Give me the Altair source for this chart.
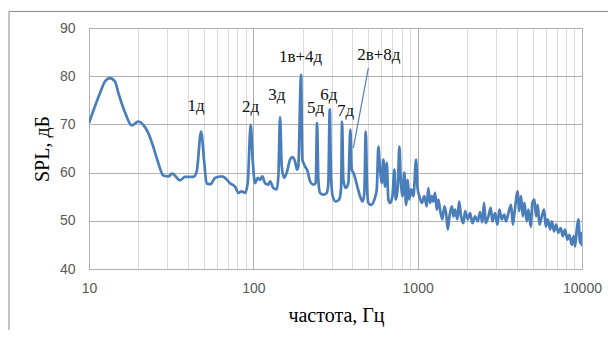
import altair as alt
import pandas as pd

# spectrum: frequency (Hz) and SPL (dB)
freq = [
    10, 11.67, 12.5, 13.4, 14.4, 15.1, 16.6, 18.2, 19.95, 21.4,
    22.96, 24.6, 26.4, 28.3, 30.4, 32.1, 35.8, 38.4, 43.1, 45.2,
    48.1, 50.3, 52.0, 55.0, 58.4, 64.2, 67.3, 72.1, 77.4, 81.1,
    85.0, 89.0, 92.4, 96.4, 99.1, 102.4, 106.4, 109.8, 113.5, 117.8,
    123.4, 126.4, 132.4, 138.8, 142.0, 145.4, 148.9, 153.8, 159.7, 167.3,
    172.7, 179.4, 184.5, 187.8, 195.2, 198.8, 206.4, 214.3, 221.3, 231.9,
    239.8, 244.2, 248.7, 254.7, 266.8, 279.9, 286.0, 291.7, 297.0, 304.1,
    317.4, 332.5, 341.9, 346.7, 353.2, 364.9, 378.5, 389.3, 397.1, 406.1,
    415.9, 431.8, 445.7, 463.0, 473.6, 483.2, 492.2, 501.3, 520.5, 545.1,
    563.6, 576.6, 590.4, 604.6, 618.4, 633.2, 648.6, 663.5, 679.5, 701.9,
    721.6, 735.9, 757, 774, 789, 807, 830, 850, 871, 887,
    912, 942, 978, 996, 1024, 1059, 1098, 1136, 1161, 1189,
    1218, 1246, 1276, 1307, 1337, 1368, 1413, 1454, 1489, 1525,
    1560, 1614, 1650, 1689, 1745, 1787, 1838, 1898, 1944, 2019,
    2085, 2153, 2235, 2322, 2397, 2477, 2535, 2596, 2691, 2785,
    2849, 2959, 3055, 3142, 3249, 3357, 3452, 3565, 3702, 3793,
    3880, 4065, 4141, 4258, 4361, 4460, 4612, 4717, 4878, 4990,
    5132, 5255, 5383, 5503, 5693, 5877, 6020, 6194, 6397, 6551,
    6761, 6955, 7182, 7425, 7637, 7885, 8143, 8375, 8663, 8912,
    9078, 9297, 9508, 9730, 9970, 10000,
]
spl = [
    70.3, 76.5, 78.9, 79.6, 78.9, 76.5, 72.4, 69.8, 70.6, 69.9,
    68.2, 65.4, 62.0, 59.4, 59.2, 59.8, 58.4, 59.1, 59.1, 60.2,
    68.5, 62.0, 57.7, 57.6, 58.9, 59.2, 58.9, 57.8, 57.1, 55.8,
    56.1, 55.8, 57.8, 69.9, 62.7, 57.8, 58.9, 58.5, 59.2, 57.8,
    57.5, 58.2, 56.8, 56.5, 59.2, 71.5, 61.3, 58.9, 60.0, 62.7,
    63.2, 62.3, 60.6, 61.3, 80.3, 62.7, 61.3, 60.2, 58.2, 57.5,
    57.8, 70.3, 58.5, 55.8, 55.4, 55.8, 57.8, 73.1, 59.2, 55.1,
    54.0, 54.4, 56.8, 70.6, 58.5, 56.8, 57.8, 68.9, 60.6, 60.0,
    58.9, 56.8, 55.1, 54.0, 55.8, 68.5, 57.1, 53.7, 53.3, 54.4,
    56.5, 65.4, 60.6, 57.8, 62.7, 57.1, 62.0, 54.4, 53.7, 55.1,
    60.6, 54.4, 57.1, 65.4, 58.5, 55.1, 60.0, 53.3, 58.5, 54.4,
    56.5, 55.1, 62.7, 57.1, 55.1, 53.7, 55.1, 53.0, 56.8, 53.7,
    55.1, 54.0, 55.8, 52.3, 54.4, 52.3, 50.3, 53.0, 51.6, 48.2,
    50.9, 53.0, 50.9, 52.3, 50.3, 54.0, 50.9, 49.5, 52.0, 50.3,
    51.6, 49.5, 50.9, 49.9, 51.8, 49.7, 53.7, 49.5, 50.9, 52.7,
    49.9, 51.6, 49.2, 52.3, 50.3, 51.3, 49.9, 51.6, 53.3, 49.2,
    51.6, 56.1, 52.0, 55.1, 50.9, 53.7, 49.9, 52.3, 48.8, 53.7,
    54.4, 50.9, 53.3, 49.2, 50.9, 52.3, 48.8, 50.3, 48.2, 49.9,
    47.8, 49.2, 47.5, 48.5, 46.8, 48.2, 46.1, 47.1, 45.0, 46.8,
    44.7, 48.2, 50.3, 45.4, 47.5, 44.7,
]

# annotations
ann_text = ["1д", "2д", "3д", "1в+4д", "5д", "6д", "7д", "2в+8д"]
ann_freq = [44.8, 96.2, 138.8, 193.8, 239, 288, 364, 580]
ann_spl = [73.9, 73.6, 76.0, 84.0, 73.3, 76.2, 72.7, 84.3]
leader_freq = [501, 406]
leader_spl = [81.7, 65.1]

x_grid = [10, 20, 30, 40, 50, 60, 70, 80, 90,
          100, 200, 300, 400, 500, 600, 700, 800, 900,
          1000, 2000, 3000, 4000, 5000, 6000, 7000, 8000, 9000, 10000]
y_ticks = [40, 50, 60, 70, 80, 90]

W, H = 493, 241
PAD_L, PAD_T = 81, 20

df = pd.DataFrame({"f": freq, "s": spl})
ann = pd.DataFrame({"t": ann_text, "f": ann_freq, "s": ann_spl})
lead = pd.DataFrame({"f": leader_freq, "s": leader_spl})

xs = alt.Scale(type="log", domain=[10, 10000], nice=False)
ys = alt.Scale(domain=[40, 90], nice=False)

major = "datum.value == 10 || datum.value == 100 || datum.value == 1000 || datum.value == 10000"

x_axis = alt.Axis(
    values=x_grid, format="d",
    labelExpr=f"({major}) ? datum.label : ''",
    grid=True,
    gridColor={"condition": {"test": major, "value": "#b0b0b0"}, "value": "#dadada"},
    gridWidth=1,
    ticks=False, tickSize=0,
    domain=True, domainColor="#b0b0b0",
    labelPadding=12, labelFont="Liberation Sans", labelFontSize=14,
    labelColor="#595959", labelFlush=False, labelOverlap=False,
    title="частота, Гц", titleFont="Liberation Serif", titleFontSize=20,
    titleFontWeight="normal", titleColor="#000000",
    titleX=247, titleY=46, titleBaseline="middle", titleAlign="center",
)
y_axis = alt.Axis(
    values=y_ticks, grid=True, gridColor="#b0b0b0", gridWidth=1,
    ticks=False, tickSize=0, domain=True, domainColor="#b0b0b0",
    labelPadding=14, labelFont="Liberation Sans", labelFontSize=14,
    labelColor="#595959",
    title="SPL, дБ", titleFont="Liberation Serif", titleFontSize=20,
    titleFontWeight="normal", titleColor="#000000", titleAngle=-90,
    titleX=-47, titleY=H / 2, titleBaseline="middle", titleAlign="center",
)

line = alt.Chart(df).mark_line(
    color="#4a7ebb", strokeWidth=2.7, interpolate="monotone", clip=True
).encode(
    x=alt.X("f:Q", scale=xs, axis=x_axis),
    y=alt.Y("s:Q", scale=ys, axis=y_axis),
)

leader = alt.Chart(lead).mark_line(color="#4a7ebb", strokeWidth=1.2).encode(
    x=alt.X("f:Q", scale=xs), y=alt.Y("s:Q", scale=ys)
)

labels = alt.Chart(ann).mark_text(
    font="Liberation Serif", fontSize=17, color="#111111",
    align="center", baseline="middle"
).encode(
    x=alt.X("f:Q", scale=xs), y=alt.Y("s:Q", scale=ys), text="t:N"
)

one = pd.DataFrame({"a": [0]})
frame_top = alt.Chart(one).mark_rule(color="#8c8c8c", strokeWidth=1).encode(
    x=alt.value(-80), x2=alt.value(560), y=alt.value(-16.5)
)
frame_left = alt.Chart(one).mark_rule(color="#8c8c8c", strokeWidth=1).encode(
    x=alt.value(-80), y=alt.value(-16.5), y2=alt.value(400)
)

chart = alt.layer(line, leader, labels, frame_top, frame_left).properties(
    width=W, height=H,
    autosize=alt.AutoSizeParams(type="none"),
    padding={"left": PAD_L, "top": PAD_T, "right": 600 - PAD_L - W, "bottom": 322 - PAD_T - H},
).configure_view(stroke=None)

chart.save("out.html", embed_options={"renderer": "svg", "actions": False})
